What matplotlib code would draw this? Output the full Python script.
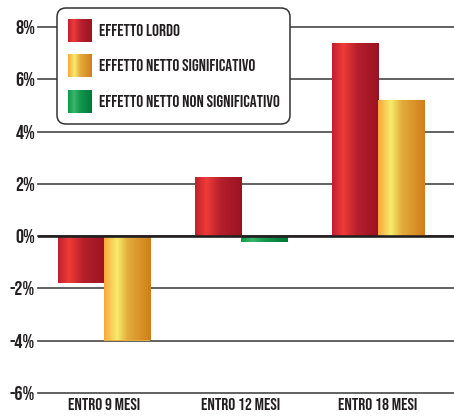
import numpy as np
import matplotlib
matplotlib.use("Agg")
import matplotlib.pyplot as plt
from matplotlib.colors import LinearSegmentedColormap
from matplotlib.patches import Rectangle
from matplotlib.legend_handler import HandlerBase

# data (percent)
categories = ["ENTRO 9 MESI", "ENTRO 12 MESI", "ENTRO 18 MESI"]
effetto_lordo = [-1.8, 2.25, 7.4]
effetto_netto_sig = [-4.0, np.nan, 5.2]
effetto_netto_nonsig = [np.nan, -0.22, np.nan]
yticks = [-6, -4, -2, 0, 2, 4, 6, 8]
ytick_labels = ["-6%", "-4%", "-2%", "0%", "2%", "4%", "6%", "8%"]
legend_labels = ["EFFETTO LORDO", "EFFETTO NETTO SIGNIFICATIVO",
                 "EFFETTO NETTO NON SIGNIFICATIVO"]

FONT = ["Bebas Neue", "DejaVu Sans"]
TXT = "#231f20"

cmap_red = LinearSegmentedColormap.from_list(
    "red", [(0, "#c11e30"), (0.24, "#ee3c37"), (0.55, "#b51f2c"), (1, "#9a1322")])
cmap_yel = LinearSegmentedColormap.from_list(
    "yel", [(0, "#f8a73c"), (0.28, "#f7ec6c"), (0.5, "#e3ad3c"), (1, "#d27d1a")])
cmap_grn = LinearSegmentedColormap.from_list(
    "grn", [(0, "#0a9a48"), (0.25, "#3ab56b"), (0.5, "#14994c"), (1, "#00773a")])

fig = plt.figure(figsize=(4.54, 4.16), dpi=100)
ax = fig.add_axes([38 / 454, 1 - 392.7 / 416, 1 - 38 / 454, (392.7 - 27.3) / 416])

x = np.arange(len(categories))
w = 0.336
grad = np.linspace(0, 1, 256).reshape(1, -1)


def gradient_bars(xpos, vals, cmap):
    bars = ax.bar(xpos, vals, w, color=cmap(0.5), linewidth=0, zorder=2)
    for b in bars:
        if np.isnan(b.get_height()):
            continue
        x0, y0 = b.get_x(), b.get_y()
        x1, y1 = x0 + b.get_width(), y0 + b.get_height()
        im = ax.imshow(grad, cmap=cmap, aspect="auto", extent=(x0, x1, y0, y1),
                       zorder=2.5, interpolation="bilinear")
        im.set_clip_path(b)


gradient_bars(x - w / 2, effetto_lordo, cmap_red)
gradient_bars(x + w / 2, effetto_netto_sig, cmap_yel)
gradient_bars(x + w / 2, effetto_netto_nonsig, cmap_grn)

ax.axhline(0, color=TXT, lw=1.9, zorder=4)

ax.set_xlim(-0.482, 2.555)
ax.set_ylim(-6, 8)
ax.set_yticks(yticks)
ax.set_yticklabels(ytick_labels, family=FONT, fontsize=14.5, color=TXT)
ax.set_xticks(x)
ax.set_xticklabels(categories, family=FONT, fontsize=12.5, color=TXT)
ax.tick_params(axis="y", length=0, pad=2)
ax.tick_params(axis="x", length=0, pad=4)
ax.grid(axis="y", color="#555555", lw=1.3, zorder=1)
for gl in ax.yaxis.get_gridlines():
    gl.set_clip_on(False)
ax.set_axisbelow(True)
for s in ax.spines.values():
    s.set_visible(False)


class GradHandler(HandlerBase):
    def __init__(self, cmap):
        super().__init__()
        self.cmap = cmap

    def create_artists(self, legend, orig_handle, xdescent, ydescent,
                       width, height, fontsize, trans):
        n = 24
        arts = []
        for i in range(n):
            r = Rectangle((-xdescent + width * i / n, -ydescent), width / n * 1.05, height,
                          facecolor=self.cmap((i + 0.5) / n), edgecolor="none",
                          transform=trans)
            arts.append(r)
        return arts


handles = [Rectangle((0, 0), 1, 1) for _ in range(3)]
leg = fig.legend(handles, legend_labels,
                 handler_map={handles[0]: GradHandler(cmap_red),
                              handles[1]: GradHandler(cmap_yel),
                              handles[2]: GradHandler(cmap_grn)},
                 loc="upper left", bbox_to_anchor=(57 / 454, 1 - 8 / 416),
                 bbox_transform=fig.transFigure, borderaxespad=0,
                 prop={"family": FONT, "size": 12.3},
                 handlelength=1.4, handleheight=1.69, handletextpad=0.41,
                 labelspacing=0.75, borderpad=0.62, frameon=True, fancybox=True)
for t in leg.get_texts():
    t.set_color(TXT)
frame = leg.get_frame()
frame.set_boxstyle("round,pad=0,rounding_size=0.5")
frame.set_edgecolor("#333333")
frame.set_linewidth(1.1)
frame.set_facecolor("white")
frame.set_alpha(1)

fig.savefig("out.png", dpi=100)
